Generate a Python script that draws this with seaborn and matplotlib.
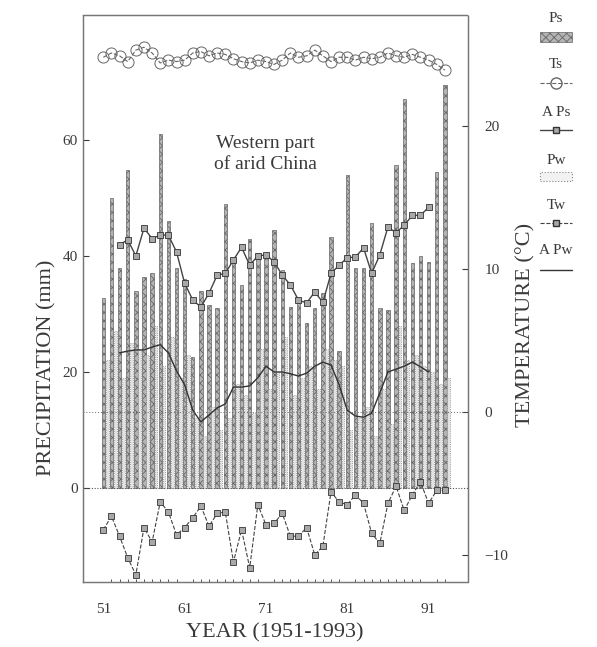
import matplotlib
matplotlib.use("Agg")
import pandas as pd
import matplotlib.pyplot as plt
import seaborn as sns
from matplotlib.lines import Line2D
from matplotlib.patches import Patch

# --- data ---
years = list(range(1951, 1994))
avg_years = list(range(1953, 1992))

# summer precipitation (mm)
ps = [32.8, 50.0, 38.0, 54.8, 34.0, 36.4, 37.0, 61.0, 46.0, 38.0,
      36.0, 22.5, 34.0, 31.5, 31.0, 49.0, 38.8, 35.0, 43.0, 40.5,
      40.0, 44.5, 37.6, 31.2, 31.9, 28.4, 31.0, 33.6, 43.3, 23.7,
      54.0, 38.0, 38.0, 45.7, 31.0, 30.7, 55.7, 67.0, 38.8, 40.0,
      39.0, 54.5, 69.5]
# winter precipitation (mm)
pw = [22, 27, 19, 25, 24, 23, 28, 21, 26, 19,
      23, 12, 9, 14, 10, 12, 18, 16, 13, 24,
      17, 20, 26, 16, 19, 21, 17, 24, 22, 21,
      10, 12, 14, 9, 17, 11, 28, 22, 23, 21,
      20, 18, 19]
# summer / winter temperature (deg C)
ts = [24.8, 25.1, 24.9, 24.5, 25.3, 25.5, 25.1, 24.4, 24.6, 24.5,
      24.6, 25.1, 25.2, 24.9, 25.1, 25.0, 24.7, 24.5, 24.4, 24.6,
      24.5, 24.3, 24.6, 25.1, 24.8, 24.9, 25.3, 24.9, 24.5, 24.8,
      24.8, 24.6, 24.8, 24.7, 24.8, 25.1, 24.9, 24.8, 25.0, 24.8,
      24.6, 24.3, 23.9]
tw = [-8.25, -7.3, -8.7, -10.2, -11.4, -8.1, -9.1, -6.3, -7.0, -8.6,
      -8.1, -7.4, -6.6, -8.0, -7.1, -7.0, -10.5, -8.25, -10.9, -6.5,
      -7.9, -7.8, -7.1, -8.7, -8.7, -8.1, -10.0, -9.4, -5.6, -6.3,
      -6.5, -5.8, -6.4, -8.5, -9.2, -6.4, -5.2, -6.9, -5.8, -4.9,
      -6.4, -5.5, -5.5]
# 5-year running means of precipitation (mm)
a_ps = [41.9, 42.8, 40.0, 44.8, 43.0, 43.6, 43.6, 40.7, 35.3, 32.4,
        31.2, 33.6, 36.7, 37.0, 39.3, 41.5, 38.4, 40.0, 40.2, 39.0,
        36.7, 35.0, 32.4, 31.9, 33.8, 32.0, 37.0, 38.4, 39.7, 39.8,
        41.4, 37.0, 40.2, 45.0, 44.0, 45.3, 47.0, 47.0, 48.4]
a_pw = [23.3, 23.6, 23.8, 23.8, 24.3, 24.7, 23.3, 20.2, 17.8, 13.4,
        11.4, 12.6, 13.8, 14.5, 17.4, 17.4, 17.6, 19.0, 21.0, 20.0,
        20.0, 19.7, 19.3, 19.8, 21.0, 21.7, 21.2, 17.8, 13.4, 12.4,
        12.2, 12.9, 16.4, 20.0, 20.5, 21.0, 21.7, 20.9, 20.0]

tick_years = [1951, 1961, 1971, 1981, 1991]
tick_labels = ["51", "61", "71", "81", "91"]

ink = "#3a3a3a"

sns.set_theme(style="white")
plt.rcParams["font.family"] = ["Liberation Serif", "DejaVu Serif"]
plt.rcParams["text.color"] = ink
plt.rcParams["axes.labelcolor"] = ink
plt.rcParams["xtick.color"] = ink
plt.rcParams["ytick.color"] = ink
plt.rcParams["hatch.linewidth"] = 0.6

fig = plt.figure(figsize=(5.97, 6.47), dpi=100)
ax = fig.add_axes([0.139, 0.1005, 0.645, 0.8764])

df = pd.DataFrame({"year": years, "ps": ps, "pw": pw, "ts": ts, "tw": tw})
df["year_w"] = df["year"] + 0.47
df_avg = pd.DataFrame({"year": avg_years, "a_ps": a_ps, "a_pw": a_pw})

# precipitation bars
sns.barplot(data=df, x="year", y="ps", native_scale=True, width=0.42,
            color="#b4b4b4", edgecolor="#666666", linewidth=0.5,
            errorbar=None, ax=ax)
n_ps = len(ax.patches)
for p in ax.patches:
    p.set_hatch("xxxx")
sns.barplot(data=df, x="year_w", y="pw", native_scale=True, width=0.34,
            color="#dedede", edgecolor="#8a8a8a", linewidth=0.6,
            errorbar=None, ax=ax)
for p in ax.patches[n_ps:]:
    p.set_linestyle(":")
    p.set_facecolor("#e2e2e2")

# running means
sns.lineplot(data=df_avg, x="year", y="a_ps", ax=ax, color="#444444",
             lw=1.0, marker="s", markersize=5, markerfacecolor="#a8a8a8",
             markeredgecolor="#333333", markeredgewidth=0.6)
sns.lineplot(data=df_avg, x="year", y="a_pw", ax=ax, color="#333333", lw=1.0)
ax.axhline(0, color="#555555", lw=0.8, ls=(0, (1, 1.5)))

ax.set_xlim(1948.5, 1995.85)
ax.set_ylim(-16.2, 81.55)
ax.set_yticks([0, 20, 40, 60])
ax.set_xticks(tick_years)
ax.set_xticklabels(tick_labels)
ax.set_xticks(years, minor=True)
ax.tick_params(axis="both", which="major", direction="in", length=4,
               labelsize=11, width=0.8)
ax.tick_params(axis="x", which="minor", direction="in", length=2, width=0.6,
               bottom=True)
ax.tick_params(axis="x", pad=15)
ax.set_xlabel("YEAR (1951-1993)", fontsize=16)
ax.xaxis.set_label_coords(0.499, -0.072)
ax.set_ylabel("PRECIPITATION (mm)", fontsize=16)
ax.yaxis.set_label_coords(-0.068, 0.377)

# temperatures on the right-hand axis
ax2 = ax.twinx()
sns.lineplot(data=df, x="year", y="ts", ax=ax2, color="#666666", lw=0.8,
             ls="--", marker="o", markersize=8, markerfacecolor="none",
             markeredgecolor="#666666", markeredgewidth=0.7)
sns.lineplot(data=df, x="year", y="tw", ax=ax2, color="#444444", lw=0.8,
             ls="--", marker="s", markersize=4.5, markerfacecolor="#a8a8a8",
             markeredgecolor="#333333", markeredgewidth=0.6)
ax2.axhline(0, color="#666666", lw=0.7, ls=(0, (1, 2)))
ax2.set_ylim(-11.9, 27.76)
ax2.set_yticks([-10, 0, 10, 20])
ax2.tick_params(axis="y", direction="in", length=4, labelsize=11, width=0.8,
                pad=12)
ax2.set_ylabel("TEMPERATURE (\u00b0C)", fontsize=16)
ax2.yaxis.set_label_coords(1.125, 0.453)

for a in (ax, ax2):
    for s in a.spines.values():
        s.set_color("#777777")
        s.set_linewidth(0.9)
        s.set_linestyle((0, (1, 1)))

ax.text(0.473, 0.755, "Western part\nof arid China", transform=ax.transAxes,
        ha="center", va="center", fontsize=14, linespacing=1.3)

# legend: symbols only, names written above each symbol
handles = [
    Patch(facecolor="#b4b4b4", edgecolor="#666666", hatch="xxxx", lw=0.5),
    Line2D([], [], color="#666666", ls="--", lw=0.8, marker="o", ms=8,
           mfc="none", mec="#666666"),
    Line2D([], [], color="#444444", lw=1.0, marker="s", ms=5, mfc="#a8a8a8",
           mec="#333333"),
    Patch(facecolor="#f2f2f2", edgecolor="#8a8a8a", ls=":", lw=0.8),
    Line2D([], [], color="#444444", ls="--", lw=0.8, marker="s", ms=4.5,
           mfc="#a8a8a8", mec="#333333"),
    Line2D([], [], color="#333333", lw=1.0),
]
names = ["Ps", "Ts", "A Ps", "Pw", "Tw", "A Pw"]
fig.legend(handles, [""] * len(handles), loc="upper center",
           bbox_to_anchor=(562 / 597, 1 - 19 / 647), frameon=False,
           fontsize=10, labelspacing=2.42, handlelength=2.3)
for name, y in zip(names, [18, 65, 113, 160, 205, 250]):
    fig.text(556 / 597, 1 - y / 647, name, ha="center", va="center",
             fontsize=11)

fig.savefig("out.png", dpi=100)
